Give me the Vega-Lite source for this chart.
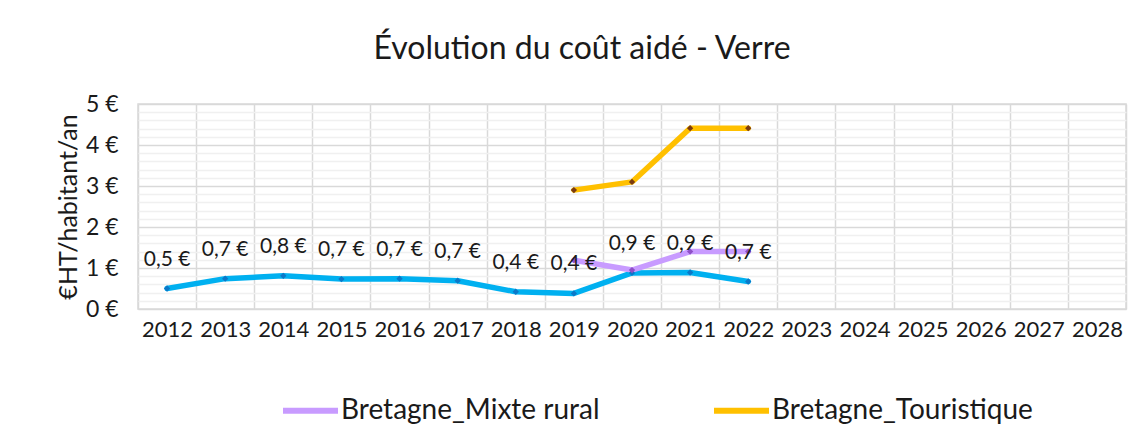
{
  "$schema": "https://vega.github.io/schema/vega-lite/v6.json",
  "autosize": {"type": "none"},
  "padding": {"left": 138, "top": 104, "right": 18, "bottom": 121},
  "width": 988,
  "height": 205,
  "background": "white",
  "config": {
    "font": "Lato",
    "locale": {"number": {"decimal": ",", "thousands": " ", "grouping": [3], "currency": ["", " €"]}},
    "view": {"stroke": "#d9d9d9", "strokeWidth": 1.5}
  },
  "title": {
    "text": "Évolution du coût aidé - Verre",
    "fontSize": 32,
    "fontWeight": "normal",
    "color": "#1a1a1a",
    "anchor": "middle",
    "frame": "group",
    "dx": -50,
    "offset": 27
  },
  "data": {
    "values": [
      {"annee": "2012", "serie": "Bretagne", "valeur": 0.50},
      {"annee": "2013", "serie": "Bretagne", "valeur": 0.74},
      {"annee": "2014", "serie": "Bretagne", "valeur": 0.81},
      {"annee": "2015", "serie": "Bretagne", "valeur": 0.73},
      {"annee": "2016", "serie": "Bretagne", "valeur": 0.74},
      {"annee": "2017", "serie": "Bretagne", "valeur": 0.69},
      {"annee": "2018", "serie": "Bretagne", "valeur": 0.42},
      {"annee": "2019", "serie": "Bretagne", "valeur": 0.38},
      {"annee": "2020", "serie": "Bretagne", "valeur": 0.88},
      {"annee": "2021", "serie": "Bretagne", "valeur": 0.89},
      {"annee": "2022", "serie": "Bretagne", "valeur": 0.67},
      {"annee": "2019", "serie": "Bretagne_Mixte rural", "valeur": 1.19},
      {"annee": "2020", "serie": "Bretagne_Mixte rural", "valeur": 0.95},
      {"annee": "2021", "serie": "Bretagne_Mixte rural", "valeur": 1.40},
      {"annee": "2022", "serie": "Bretagne_Mixte rural", "valeur": 1.40},
      {"annee": "2019", "serie": "Bretagne_Touristique", "valeur": 2.90},
      {"annee": "2020", "serie": "Bretagne_Touristique", "valeur": 3.10},
      {"annee": "2021", "serie": "Bretagne_Touristique", "valeur": 4.41},
      {"annee": "2022", "serie": "Bretagne_Touristique", "valeur": 4.41}
    ]
  },
  "encoding": {
    "x": {
      "field": "annee",
      "type": "ordinal",
      "scale": {"type": "band", "paddingInner": 0, "paddingOuter": 0,
        "domain": ["2012","2013","2014","2015","2016","2017","2018","2019","2020","2021","2022","2023","2024","2025","2026","2027","2028"]},
      "axis": {
        "title": null,
        "labelAngle": 0,
        "labelFontSize": 22,
        "labelColor": "#1a1a1a",
        "labelPadding": 10,
        "tickBand": "extent",
        "ticks": false,
        "domain": false,
        "grid": true,
        "gridColor": "#d9d9d9",
        "gridWidth": 1.5
      }
    },
    "y": {
      "field": "valeur",
      "type": "quantitative",
      "scale": {"domain": [0, 5], "nice": false},
      "axis": {
        "title": "€HT/habitant/an",
        "titleFontSize": 25,
        "titleFontWeight": "normal",
        "titleColor": "#1a1a1a",
        "titlePadding": 4,
        "values": [0,0.2,0.4,0.6,0.8,1,1.2,1.4,1.6,1.8,2,2.2,2.4,2.6,2.8,3,3.2,3.4,3.6,3.8,4,4.2,4.4,4.6,4.8,5],
        "labelExpr": "datum.value % 1 === 0 ? datum.value + ' €' : ''",
        "labelFontSize": 23,
        "labelColor": "#1a1a1a",
        "labelPadding": 20,
        "ticks": false,
        "domain": false,
        "grid": true,
        "gridColor": {"condition": {"test": "datum.value % 1 === 0", "value": "#d9d9d9"}, "value": "#f0f0f0"},
        "gridWidth": 1.5
      }
    },
    "color": {
      "field": "serie",
      "type": "nominal",
      "scale": {
        "domain": ["Bretagne", "Bretagne_Mixte rural", "Bretagne_Touristique"],
        "range": ["#00B0F0", "#C89BFF", "#FFC000"]
      },
      "legend": {
        "values": ["Bretagne_Mixte rural", "Bretagne_Touristique"],
        "title": null,
        "orient": "none",
        "direction": "horizontal",
        "legendX": 142,
        "legendY": 276,
        "symbolType": "stroke",
        "symbolSize": 3025,
        "symbolStrokeWidth": 6,
        "labelFontSize": 28,
        "labelColor": "#1a1a1a",
        "labelOffset": 0,
        "columnPadding": 102,
        "labelLimit": 400
      }
    }
  },
  "layer": [
    {
      "mark": {"type": "line", "strokeWidth": 5.5, "strokeCap": "round", "strokeJoin": "round"}
    },
    {
      "mark": {"type": "point", "shape": "diamond", "filled": true, "size": 40, "opacity": 1},
      "encoding": {
        "fill": {
          "field": "serie",
          "type": "nominal",
          "scale": {
            "domain": ["Bretagne", "Bretagne_Mixte rural", "Bretagne_Touristique"],
            "range": ["#0B78C8", "#8E4FC8", "#7A3B10"]
          },
          "legend": null
        }
      }
    },
    {
      "transform": [{"filter": "datum.serie === 'Bretagne'"}],
      "mark": {"type": "text", "fontSize": 21, "color": "#1a1a1a", "dy": -29, "baseline": "middle"},
      "encoding": {
        "text": {"field": "valeur", "type": "quantitative", "format": "$.1f"},
        "color": {"value": "#1a1a1a"}
      }
    }
  ]
}
